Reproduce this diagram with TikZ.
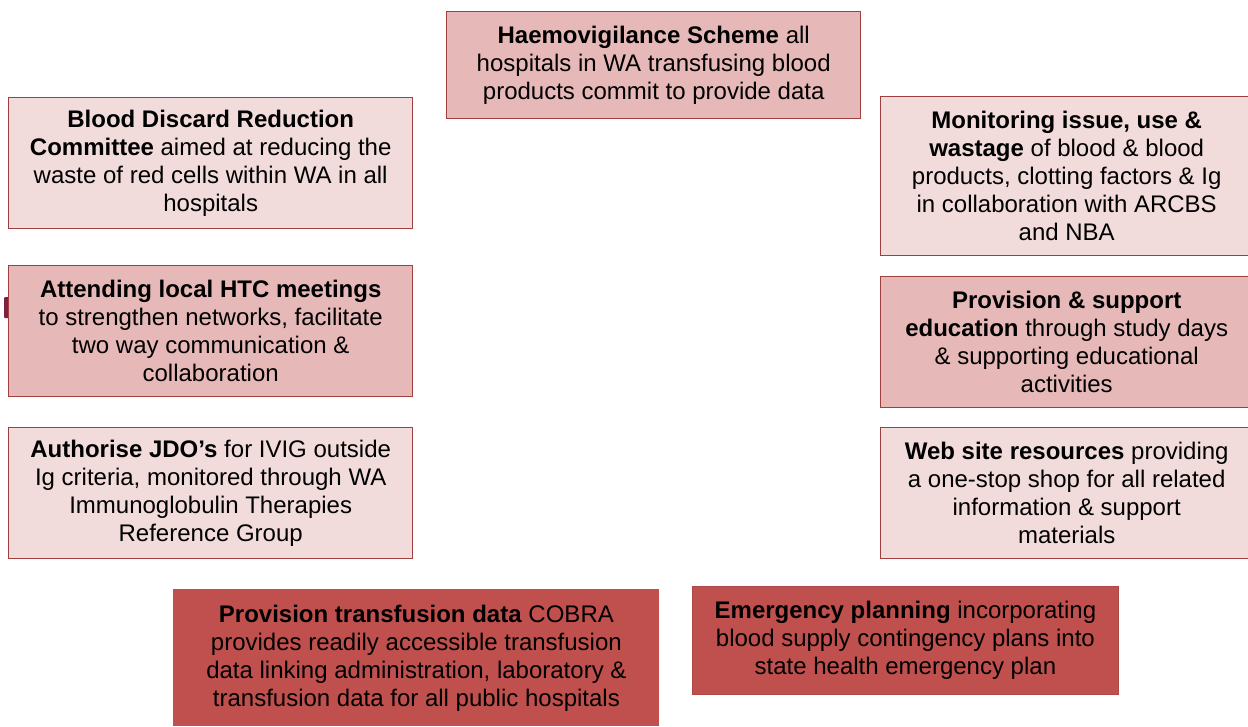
\documentclass[tikz,border=0pt]{standalone}
\usepackage{fontspec}
\setmainfont{Liberation Sans}
\definecolor{lightfill}{HTML}{F2DCDB}
\definecolor{midfill}{HTML}{E6B9B8}
\definecolor{darkfill}{HTML}{C0504D}
\definecolor{bordercol}{HTML}{A0403E}
\definecolor{markcol}{HTML}{7E2040}
\begin{document}
\begin{tikzpicture}[x=1pt,y=-1pt,
  box/.style={draw=bordercol, line width=1.4pt, align=center, anchor=north west,
    inner sep=0pt, font=\fontsize{24}{28}\selectfont, text=black},
  lightbox/.style={box, fill=lightfill},
  midbox/.style={box, fill=midfill},
  darkbox/.style={box, fill=darkfill, draw=darkfill!90!black, line width=0.8pt}]
\useasboundingbox (0,0) rectangle (1248,726);
\clip (0,0) rectangle (1248,726);

\node[midbox, minimum width=414pt, minimum height=107pt] (haemo) at (446,11)
  {\textbf{Haemovigilance Scheme} all\\hospitals in WA transfusing blood\\products commit to provide data};

\node[lightbox, minimum width=404pt, minimum height=131pt] (discard) at (8,97)
  {\textbf{Blood Discard Reduction}\\\textbf{Committee} aimed at reducing the\\waste of red cells within WA in all\\hospitals};

\fill[markcol, rounded corners=1pt] (4,297) rectangle (9,318);
\node[midbox, minimum width=404pt, minimum height=131pt] (htc) at (8,265)
  {\textbf{Attending local HTC meetings}\\to strengthen networks, facilitate\\two way communication \&\\collaboration};

\node[lightbox, minimum width=404pt, minimum height=131pt] (jdo) at (8,427)
  {\textbf{Authorise JDO’s} for IVIG outside\\Ig criteria, monitored through WA\\Immunoglobulin Therapies\\Reference Group};

\node[lightbox, minimum width=372pt, minimum height=159pt] (monitor) at (880,96)
  {\textbf{Monitoring issue, use \&}\\\textbf{wastage} of blood \& blood\\products, clotting factors \& Ig\\in collaboration with ARCBS\\and NBA};

\node[midbox, minimum width=372pt, minimum height=131pt] (educ) at (880,276)
  {\textbf{Provision \& support}\\\textbf{education} through study days\\\& supporting educational\\activities};

\node[lightbox, minimum width=372pt, minimum height=131pt] (web) at (880,427)
  {\textbf{Web site resources} providing\\a one-stop shop for all related\\information \& support\\materials};

\node[darkbox, draw=none, minimum width=486pt, minimum height=137pt] (cobra) at (173,589)
  {\textbf{Provision transfusion data} COBRA\\provides readily accessible transfusion\\data linking administration, laboratory \&\\transfusion data for all public hospitals};

\node[darkbox, minimum width=426pt, minimum height=108pt] (emerg) at (692,586)
  {\textbf{Emergency planning} incorporating\\blood supply contingency plans into\\state health emergency plan};
\end{tikzpicture}
\end{document}
